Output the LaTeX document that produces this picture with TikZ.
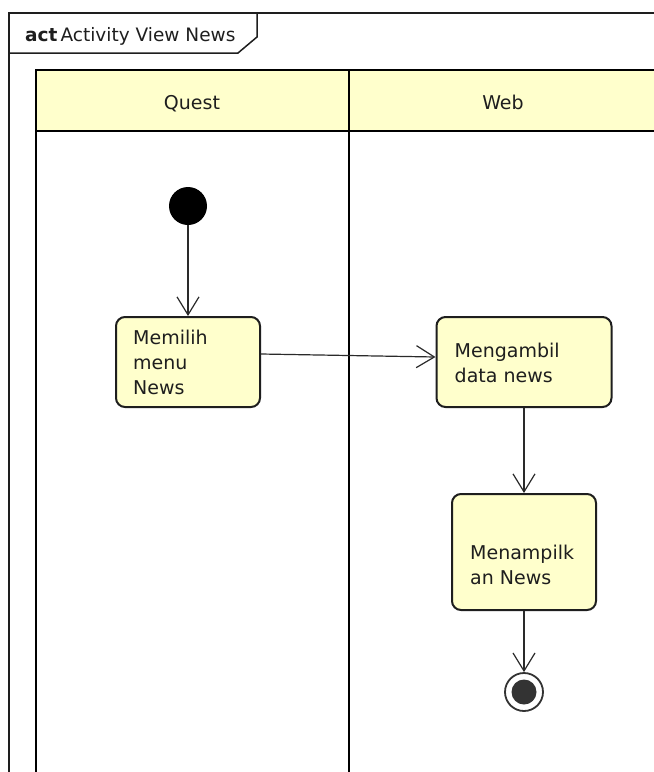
\documentclass[tikz,border=0pt]{standalone}
\usepackage{fontspec}
\setmainfont{DejaVu Sans}
\usetikzlibrary{arrows.meta}

\definecolor{actfill}{HTML}{FFFFCC}
\definecolor{actline}{HTML}{1E1E1E}
\definecolor{flowline}{HTML}{2A2A2A}
\definecolor{endcore}{HTML}{333333}

\tikzset{
  actbox/.style={draw=actline, line width=2pt, fill=actfill, rounded corners=9pt, inner sep=0pt},
  acttext/.style={anchor=west, align=left, inner sep=0pt, text=actline, font=\fontsize{19}{25}\selectfont},
  lanehead/.style={anchor=base, text=actline, font=\fontsize{19}{23}\selectfont},
  flow/.style={draw=flowline, line width=1.2pt, -{Straight Barb[length=18pt, width=22pt, line width=1.2pt]}},
  lane/.style={draw=black, line width=2.6pt},
}

\begin{document}
\begin{tikzpicture}[x=1pt, y=-1pt]
    \fill[white] (0,0) rectangle (654,772);
    \useasboundingbox (0,0) rectangle (654,772);
    \clip (0,0) rectangle (654,772);

    % Frame with its name tab
    \draw[actline, line width=1.5pt] (9,790) -- (9,13) -- (670,13);
    \draw[actline, line width=1.5pt] (9,53) -- (238,53) -- (257,37) -- (257,13);
    \node[anchor=west, inner sep=0pt, text=actline, font=\fontsize{18.5}{22}\selectfont] (title) at (25,36)
      {\textbf{act}\,Activity View News};

    % Swimlanes
    \fill[actfill] (36,70) rectangle (670,131);
    \draw[lane] (36,790) -- (36,70) -- (670,70);
    \draw[lane] (36,131) -- (670,131);
    \draw[lane] (349,70) -- (349,790);
    \node[lanehead] (quest) at (192,109) {Quest};
    \node[lanehead] (web) at (503,109) {Web};

    % Start and end
    \node[circle, fill=black, minimum size=38pt, inner sep=0pt] (start) at (188,206) {};
    \node[circle, draw=endcore, line width=1.8pt, fill=white, minimum size=38pt, inner sep=0pt,
      path picture={\fill[endcore] (path picture bounding box.center) circle (12.5pt);}] (stop) at (524,692) {};

    % Actions
    \node[actbox, minimum width=144pt, minimum height=90pt] (pick) at (188,362) {};
    \node[acttext] (picktxt) at ([xshift=18pt]pick.west) {Memilih\\menu\\News};

    \node[actbox, minimum width=175pt, minimum height=90pt] (fetch) at (524,362) {};
    \node[acttext] (fetchtxt) at ([xshift=19pt, yshift=-1pt]fetch.west) {Mengambil\\data news};

    \node[actbox, minimum width=144pt, minimum height=116pt] (show) at (524,552) {};
    \node[acttext] (showtxt) at ([xshift=19pt, yshift=-13pt]show.west) {Menampilk\\an News};

    % Control flow
    \draw[flow] (start) -- (pick);
    \draw[flow] ([yshift=8pt]pick.east) -- ([yshift=5pt]fetch.west);
    \draw[flow] (fetch) -- (show);
    \draw[flow] (show) -- (stop);
\end{tikzpicture}
\end{document}
